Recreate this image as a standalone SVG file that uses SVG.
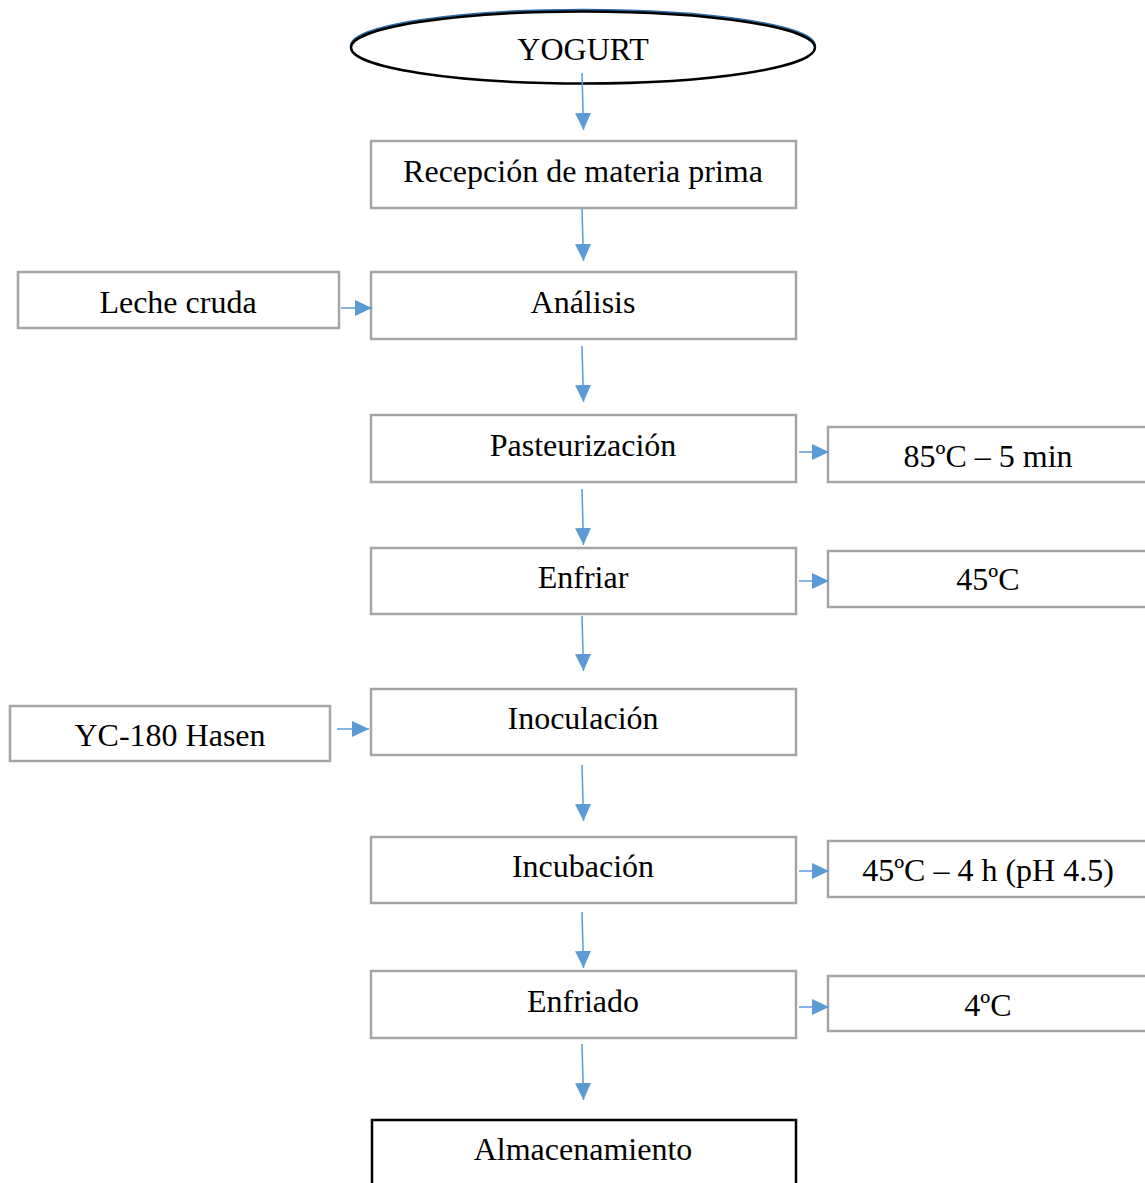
<svg xmlns="http://www.w3.org/2000/svg" width="1145" height="1183" viewBox="0 0 1145 1183">
<style>
.box{fill:#fff;stroke:#A5A5A5;stroke-width:2.5}
.dark{fill:#fff;stroke:#000;stroke-width:2.5}
.t{font-family:"Liberation Serif","Times New Roman",serif;font-size:32px;fill:#000;text-anchor:middle}
.c{stroke:#5B9BD5;stroke-width:1.5;fill:none;marker-end:url(#ah)}
</style>
<defs>
<marker id="ah" markerUnits="userSpaceOnUse" markerWidth="18" markerHeight="16" refX="17" refY="8" orient="auto">
<path d="M0,0 L17,8 L0,16 Z" fill="#5B9BD5"/>
</marker>
</defs>
<rect width="1145" height="1183" fill="#fff"/>
<g id="yogurt">
<ellipse cx="583" cy="46" rx="232" ry="36" fill="none" stroke="#2E6DA4" stroke-width="2.5"/>
<ellipse cx="583" cy="47.5" rx="232" ry="36" fill="#fff" stroke="#000" stroke-width="2.5"/>
<text class="t" x="583" y="60">YOGURT</text>
</g>
<g id="recepcion"><rect class="box" x="371" y="141" width="425" height="67"/><text class="t" x="583" y="182">Recepción de materia prima</text></g>
<g id="leche"><rect class="box" x="18" y="272" width="321" height="56"/><text class="t" x="178" y="313">Leche cruda</text></g>
<g id="analisis"><rect class="box" x="371" y="272" width="425" height="67"/><text class="t" x="583" y="313">Análisis</text></g>
<g id="pasteurizacion"><rect class="box" x="371" y="415" width="425" height="67"/><text class="t" x="583" y="456">Pasteurización</text></g>
<g id="t85"><rect class="box" x="828" y="427" width="330" height="55"/><text class="t" x="988" y="467">85ºC – 5 min</text></g>
<g id="enfriar"><rect class="box" x="371" y="548" width="425" height="66"/><text class="t" x="583" y="588">Enfriar</text></g>
<g id="t45"><rect class="box" x="828" y="551" width="330" height="56"/><text class="t" x="988" y="590">45ºC</text></g>
<g id="inoculacion"><rect class="box" x="371" y="689" width="425" height="66"/><text class="t" x="583" y="729">Inoculación</text></g>
<g id="yc180"><rect class="box" x="10" y="706" width="320" height="55"/><text class="t" x="170" y="746">YC-180 Hasen</text></g>
<g id="incubacion"><rect class="box" x="371" y="837" width="425" height="66"/><text class="t" x="583" y="877">Incubación</text></g>
<g id="t45ph"><rect class="box" x="828" y="841" width="330" height="56"/><text class="t" x="988" y="881">45ºC – 4 h (pH 4.5)</text></g>
<g id="enfriado"><rect class="box" x="371" y="971" width="425" height="67"/><text class="t" x="583" y="1012">Enfriado</text></g>
<g id="t4"><rect class="box" x="828" y="976" width="330" height="55"/><text class="t" x="988" y="1016">4ºC</text></g>
<g id="almacenamiento"><rect class="dark" x="372" y="1120" width="424" height="80"/><text class="t" x="583" y="1160">Almacenamiento</text></g>
<g id="connectors">
<line class="c" x1="582" y1="73" x2="583.5" y2="130"/>
<line class="c" x1="582" y1="209" x2="583.5" y2="261"/>
<line class="c" x1="582" y1="346" x2="583.5" y2="402"/>
<line class="c" x1="582" y1="489" x2="583.5" y2="545"/>
<line class="c" x1="582" y1="616" x2="583.5" y2="671"/>
<line class="c" x1="582" y1="765" x2="583.5" y2="821"/>
<line class="c" x1="582" y1="912" x2="583.5" y2="968"/>
<line class="c" x1="582" y1="1044" x2="583.5" y2="1100"/>
<line class="c" x1="341" y1="308" x2="372" y2="308"/>
<line class="c" x1="799" y1="452" x2="829" y2="452"/>
<line class="c" x1="799" y1="581" x2="829" y2="581"/>
<line class="c" x1="337" y1="729" x2="369" y2="729"/>
<line class="c" x1="799" y1="871" x2="829" y2="871"/>
<line class="c" x1="799" y1="1007" x2="829" y2="1007"/>
</g>
</svg>
